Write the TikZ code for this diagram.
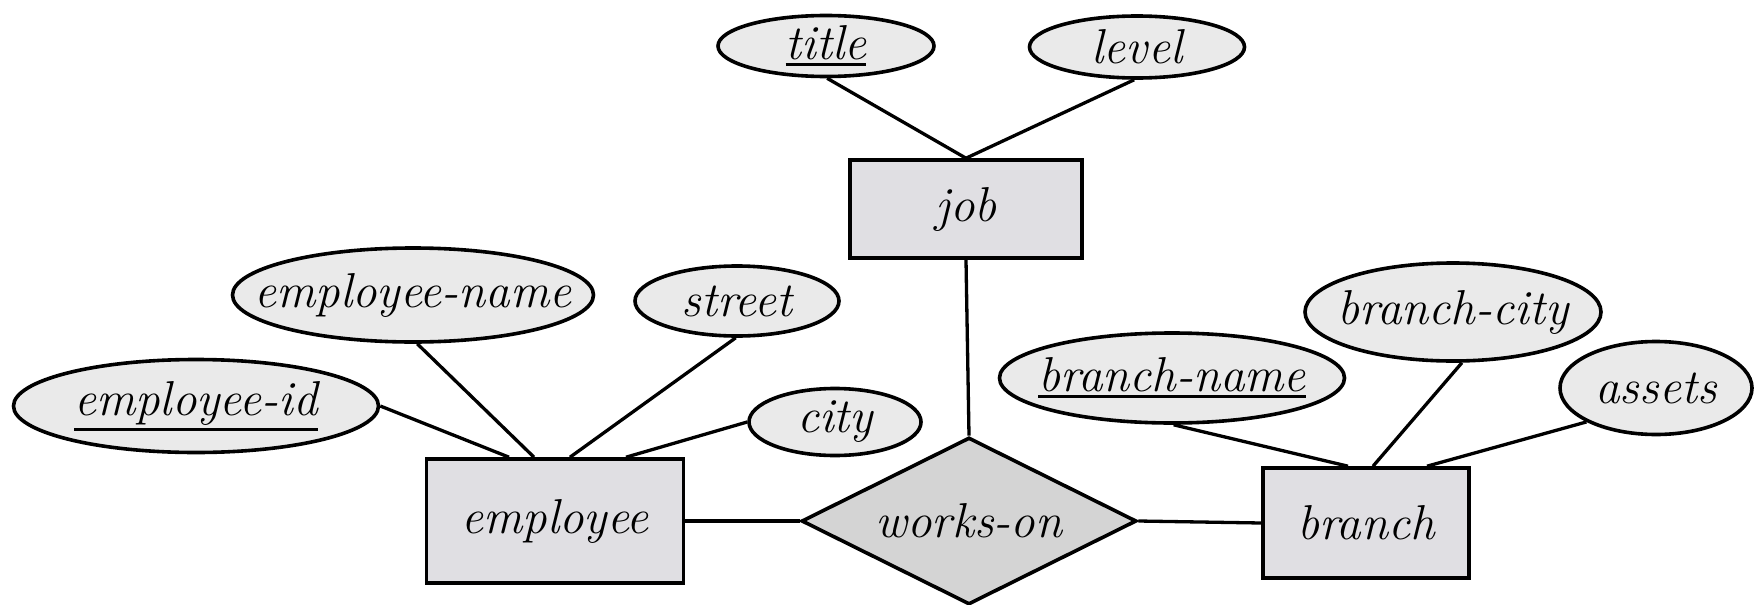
\documentclass[tikz,border=0pt]{standalone}
\usetikzlibrary{shapes.geometric}
\definecolor{attrfill}{HTML}{EAEAEA}
\definecolor{entfill}{HTML}{E0DFE3}
\definecolor{relfill}{HTML}{D4D4D4}
\newcommand\atxt[1]{\makebox[0pt]{#1}}
\newcommand\keyul[1]{\vtop{\hbox{#1}\kern3pt\hrule height 3pt}}
\tikzset{
  base/.style={draw=black, line width=3.6pt, font=\fontsize{49}{52}\selectfont\itshape, inner sep=0pt},
  attr/.style={base, ellipse, fill=attrfill},
  entity/.style={base, rectangle, fill=entfill},
  rel/.style={base, diamond, fill=relfill, aspect=2},
  link/.style={line width=3.3pt},
}
\begin{document}
\begin{tikzpicture}[x=1pt,y=-1pt]
\useasboundingbox (0,0) rectangle (1754,605);
% entities and relationship
\node[entity, minimum width=232pt, minimum height=98pt] (job) at (966,209) {job};
\node[entity, minimum width=257pt, minimum height=124pt] (employee) at (555,521) {employee};
\node[entity, minimum width=206pt, minimum height=110pt] (branch) at (1366,523) {branch};
\node[rel, minimum width=335pt, minimum height=167pt] (works) at (969,521) {\atxt{works-on}};
% attributes
\node[attr, minimum width=216pt, minimum height=61pt] (title) at (826,46) {\atxt{\keyul{title}}};
\node[attr, minimum width=215pt, minimum height=62pt] (level) at (1137,47) {\atxt{level}};
\node[attr, minimum width=361pt, minimum height=94pt] (ename) at (413,295) {\atxt{employee-name}};
\node[attr, minimum width=204pt, minimum height=70pt] (street) at (737,301) {\atxt{street}};
\node[attr, minimum width=365pt, minimum height=93pt] (eid) at (196,406) {\atxt{\keyul{employee-id}}};
\node[attr, minimum width=172pt, minimum height=67pt] (city) at (835,422) {\atxt{city}};
\node[attr, minimum width=345pt, minimum height=90pt] (bname) at (1172,378) {\atxt{\keyul{branch-name}}};
\node[attr, minimum width=296pt, minimum height=98pt] (bcity) at (1453,312) {\atxt{branch-city}};
\node[attr, minimum width=192pt, minimum height=93pt] (assets) at (1656,388) {\atxt{assets}};
% connectors
\draw[link] (title.272) -- (job.north);
\draw[link] (level.265) -- (job.north);
\draw[link] (job.south) -- (works.north);
\draw[link] (employee.east) -- (works.west);
\draw[link] (works.east) -- (branch.west);
\draw[link] (eid.east) -- ([xshift=-46pt]employee.north);
\draw[link] (ename.275) -- ([xshift=-21pt]employee.north);
\draw[link] (street.268) -- ([xshift=15pt]employee.north);
\draw[link] (city.west) -- ([xshift=71pt]employee.north);
\draw[link] (bname.272) -- ([xshift=-18pt]branch.north);
\draw[link] (bcity.280) -- ([xshift=7pt]branch.north);
\draw[link] (assets.206) -- ([xshift=61pt]branch.north);
\end{tikzpicture}
\end{document}
